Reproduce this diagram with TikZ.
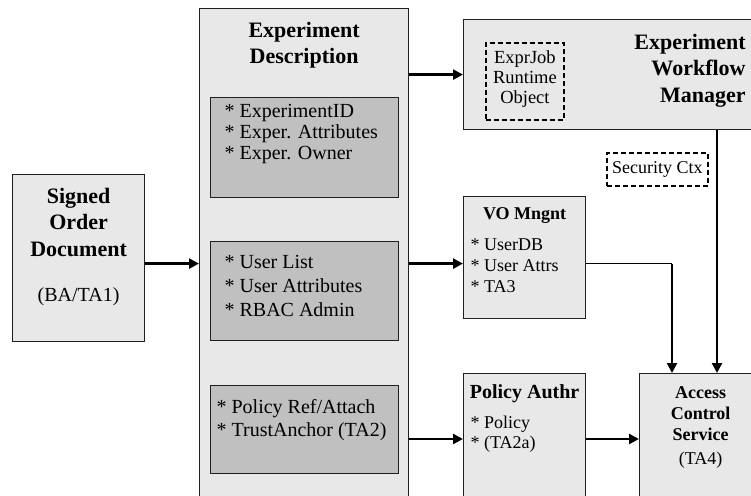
\documentclass[tikz,border=0pt]{standalone}
\usepackage{fontspec}
\setmainfont{Liberation Serif}
\usetikzlibrary{arrows.meta}
\definecolor{boxfill}{HTML}{E8E8E8}
\definecolor{itemfill}{HTML}{C0C0C0}
\definecolor{edgecolor}{HTML}{202020}
\newcommand{\boxtext}[3]{\parbox[t][#2][t]{#1}{#3}}
\newcommand{\att}[1]{* #1\par}
\newcommand{\bigfont}{\fontsize{22}{26.5}\selectfont}
\newcommand{\itemfont}[1]{\fontsize{20}{#1}\selectfont}
\newcommand{\smallfont}{\fontsize{18}{21}\selectfont}

\tikzset{
    outerbox/.style={draw=edgecolor, fill=boxfill, line width=1.2pt, inner sep=0pt, anchor=north west},
    itembox/.style={draw=edgecolor, fill=itemfill, line width=1.2pt, inner sep=0pt, anchor=north west},
    dashbox/.style={draw=black, dash pattern=on 5pt off 3pt, line width=1.8pt, inner sep=0pt, anchor=north west},
    conn/.style={-{Triangle[length=10pt,width=10pt]}, line width=2.4pt},
    thinconn/.style={line width=1pt},
}

\begin{document}
\begin{tikzpicture}[x=1pt, y=-1pt]
        \useasboundingbox (0,0) rectangle (751,495);
        \clip (0,0) rectangle (751,495);

        \node[outerbox] (sod) at (12,174) {\boxtext{132pt}{167pt}{\bigfont\centering\vspace*{13.5pt}%
            \textbf{Signed\\Order\\Document}\\[18.5pt]\fontsize{20}{26.5}\selectfont(BA/TA1)\par}};

        \node[outerbox] (ed) at (199,8) {\boxtext{209pt}{500pt}{\bigfont\centering\vspace*{13.5pt}%
            \textbf{Experiment\\Description}\par}};
        \node[itembox] (expr) at (210,97) {\boxtext{188pt}{100pt}{\itemfont{21}\raggedright\leftskip=14pt\relax\vspace*{6.5pt}%
            \att{ExperimentID}
            \att{Exper. Attributes}
            \att{Exper. Owner}}};
        \node[itembox] (users) at (210,241) {\boxtext{188pt}{99pt}{\itemfont{24}\raggedright\leftskip=14pt\relax\vspace*{13.5pt}%
            \att{User List}
            \att{User Attributes}
            \att{RBAC Admin}}};
        \node[itembox] (policy) at (210,385) {\boxtext{188pt}{88pt}{\itemfont{23}\raggedright\leftskip=6pt\relax\vspace*{13.5pt}%
            \att{Policy Ref/Attach}
            \att{TrustAnchor (TA2)}}};

        \node[outerbox] (ewm) at (463,19) {\boxtext{300pt}{110pt}{\bigfont\raggedleft\rightskip=18pt\relax\vspace*{14.5pt}%
            \textbf{Experiment\\Workflow\\Manager}\par}};
        \node[dashbox] (job) at (485,42) {\boxtext{78pt}{77pt}{\fontsize{18.5}{20}\selectfont\centering\vspace*{8pt}%
            ExprJob\\Runtime\\Object\par}};
        \node[dashbox, minimum width=101pt, minimum height=33pt, font=\smallfont] (ctx) at (606,152) {Security Ctx};

        \node[outerbox] (vo) at (463,196) {\boxtext{122pt}{122pt}{\smallfont\vspace*{10.5pt}%
            {\centering\textbf{VO Mngnt}\par}\vspace{10pt}
            \raggedright\leftskip=7pt\relax
            \att{UserDB}
            \att{User Attrs}
            \att{TA3}}};
        \node[outerbox] (pa) at (463,373) {\boxtext{122pt}{200pt}{\fontsize{18}{20}\selectfont\vspace*{11pt}%
            {\centering\fontsize{20}{20}\selectfont\textbf{Policy Authr}\par}\vspace{10pt}
            \raggedright\leftskip=7pt\relax
            \att{Policy}
            \att{(TA2a)}}};
        \node[outerbox] (acs) at (639,373) {\boxtext{122pt}{200pt}{\smallfont\centering\vspace*{13pt}%
            \textbf{Access\\Control\\Service}\\[3pt](TA4)\par}};

        % connectors
        \coordinate (sodout) at ([yshift=-5.5pt]sod.east);
        \coordinate (voin) at ([yshift=-6pt]vo.west);
        \coordinate (pain) at ([yshift=-66pt]pa.north west);
        \coordinate (acstop1) at ([xshift=33pt]acs.north west);
        \coordinate (acstop2) at ([xshift=78pt]acs.north west);

        \draw[conn] (sodout) -- (sodout -| ed.west);
        \draw[conn] (ewm.west -| ed.east) -- (ewm.west);
        \draw[conn] (voin -| ed.east) -- (voin);
        \draw[conn] (pain -| ed.east) -- (pain);
        \draw[thinconn] (voin -| vo.east) -- (voin -| acstop1);
        \draw[conn] (voin -| acstop1) -- (acstop1);
        \draw[conn] (acstop2 |- ewm.south) -- (acstop2);
        \draw[conn] (pain -| pa.east) -- (pain -| acs.west);
\end{tikzpicture}
\end{document}
